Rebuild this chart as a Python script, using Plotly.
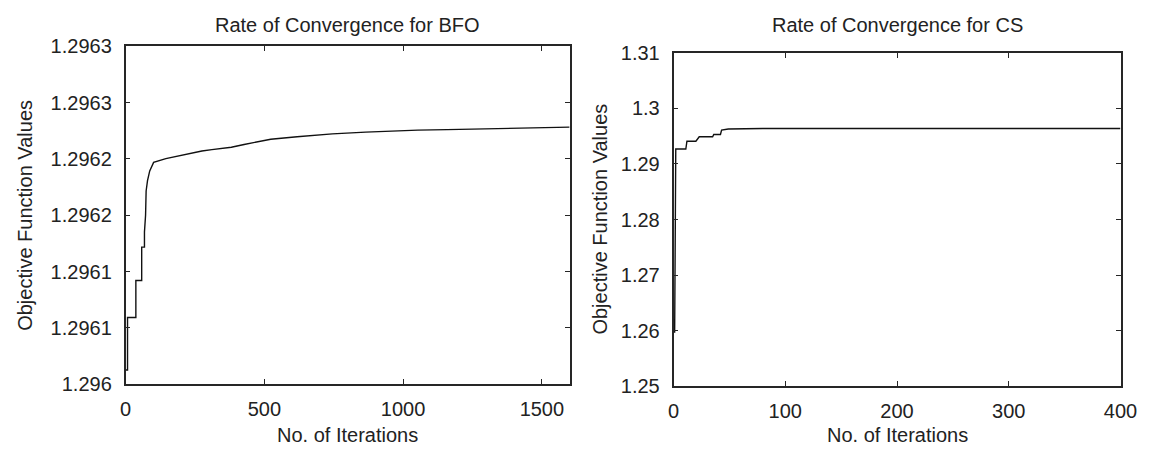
import plotly.graph_objects as go

# ---------------- data ----------------
bfo_iter = [1, 7, 7, 37, 37, 58, 58, 68, 68, 70, 72, 74, 79, 87, 101, 145, 194, 230,
            275, 311, 381, 427, 470, 523, 618, 745, 865, 947, 1053, 1158, 1300, 1450, 1600]
bfo_value = [1.2960127, 1.2960127, 1.2960592, 1.2960592, 1.2960921, 1.2960921,
             1.2961217, 1.2961217, 1.2961350, 1.2961430, 1.2961500, 1.2961715,
             1.2961808, 1.2961893, 1.2961969, 1.2962003, 1.2962028, 1.2962050,
             1.2962070, 1.2962082, 1.2962104, 1.2962128, 1.2962152, 1.2962175,
             1.2962197, 1.2962222, 1.2962238, 1.2962247, 1.2962255, 1.2962260,
             1.2962267, 1.2962275, 1.2962282]

cs_iter = [1, 2, 11, 12, 20, 23, 35, 36, 42, 43, 49, 80, 400]
cs_value = [1.2596, 1.2927, 1.2927, 1.2941, 1.2941, 1.2949, 1.2949, 1.2953,
            1.2953, 1.2961, 1.2963, 1.2964, 1.2964]

bfo_yticks = [1.29600, 1.29605, 1.29610, 1.29615, 1.29620, 1.29625, 1.29630]
bfo_yticklabels = ["1.296", "1.2961", "1.2961", "1.2962", "1.2962", "1.2963", "1.2963"]
bfo_xticks = [0, 500, 1000, 1500]
cs_yticks = [1.25, 1.26, 1.27, 1.28, 1.29, 1.30, 1.31]
cs_yticklabels = ["1.25", "1.26", "1.27", "1.28", "1.29", "1.3", "1.31"]
cs_xticks = [0, 100, 200, 300, 400]

titles = ["Rate of Convergence for BFO", "Rate of Convergence for CS"]
xlabel = "No. of Iterations"
ylabel = "Objective Function Values"

# ---------------- layout helpers ----------------
W, H = 1163, 460
FONT = "Liberation Sans, Arial, sans-serif"
TXT = "#222222"
FS = 20

def px_x(p):
    return p / W

def px_y(p):
    return 1 - p / H

left_box = dict(x0=122, x1=575, y0=37, y1=392)
right_box = dict(x0=681, x1=1137, y0=44, y1=394)

fig = go.Figure()
fig.add_trace(go.Scatter(x=bfo_iter, y=bfo_value, mode="lines",
                         line=dict(color="#111111", width=1.4),
                         xaxis="x", yaxis="y", showlegend=False, hoverinfo="skip"))
fig.add_trace(go.Scatter(x=cs_iter, y=cs_value, mode="lines",
                         line=dict(color="#111111", width=1.4),
                         xaxis="x2", yaxis="y2", showlegend=False, hoverinfo="skip"))

axis_common = dict(showline=True, linecolor="#262626", linewidth=1.6, mirror="ticks",
                   ticks="inside", ticklen=5, tickcolor="#262626", tickwidth=1,
                   showgrid=False, zeroline=False,
                   tickfont=dict(family=FONT, size=FS, color=TXT))

fig.update_layout(
    width=W, height=H,
    margin=dict(l=0, r=0, t=0, b=0),
    paper_bgcolor="white", plot_bgcolor="white",
    xaxis=dict(axis_common, domain=[px_x(left_box["x0"]), px_x(left_box["x1"])],
               range=[0, 1600], tickvals=bfo_xticks, anchor="y", ticklabelstandoff=6),
    yaxis=dict(axis_common, domain=[px_y(left_box["y1"]), px_y(left_box["y0"])],
               range=[1.29600, 1.29630], tickvals=bfo_yticks, ticktext=bfo_yticklabels,
               anchor="x", ticklabelstandoff=8),
    xaxis2=dict(axis_common, domain=[px_x(right_box["x0"]), px_x(right_box["x1"])],
                range=[0, 400], tickvals=cs_xticks, anchor="y2", ticklabelstandoff=6),
    yaxis2=dict(axis_common, domain=[px_y(right_box["y1"]), px_y(right_box["y0"])],
                range=[1.25, 1.31], tickvals=cs_yticks, ticktext=cs_yticklabels,
                anchor="x2", ticklabelstandoff=8),
)

annots = []
for box, t in zip([left_box, right_box], titles):
    cx = (box["x0"] + box["x1"]) / 2
    annots.append(dict(text=t, x=px_x(cx), y=px_y(15), xref="paper", yref="paper",
                       showarrow=False, xanchor="center", yanchor="middle",
                       font=dict(family=FONT, size=FS, color=TXT)))
    annots.append(dict(text=xlabel, x=px_x(cx), y=px_y(445), xref="paper", yref="paper",
                       showarrow=False, xanchor="center", yanchor="middle",
                       font=dict(family=FONT, size=FS, color=TXT)))
for box, xc in zip([left_box, right_box], [20, 605]):
    cy = (box["y0"] + box["y1"]) / 2
    annots.append(dict(text=ylabel, x=px_x(xc), y=px_y(cy), xref="paper", yref="paper",
                       showarrow=False, xanchor="center", yanchor="middle", textangle=-90,
                       font=dict(family=FONT, size=FS, color=TXT)))
fig.update_layout(annotations=annots)

fig.write_html("out.html",
               config={"displayModeBar": False},
               post_script="document.body.style.margin='0';document.body.style.overflow='hidden';")
